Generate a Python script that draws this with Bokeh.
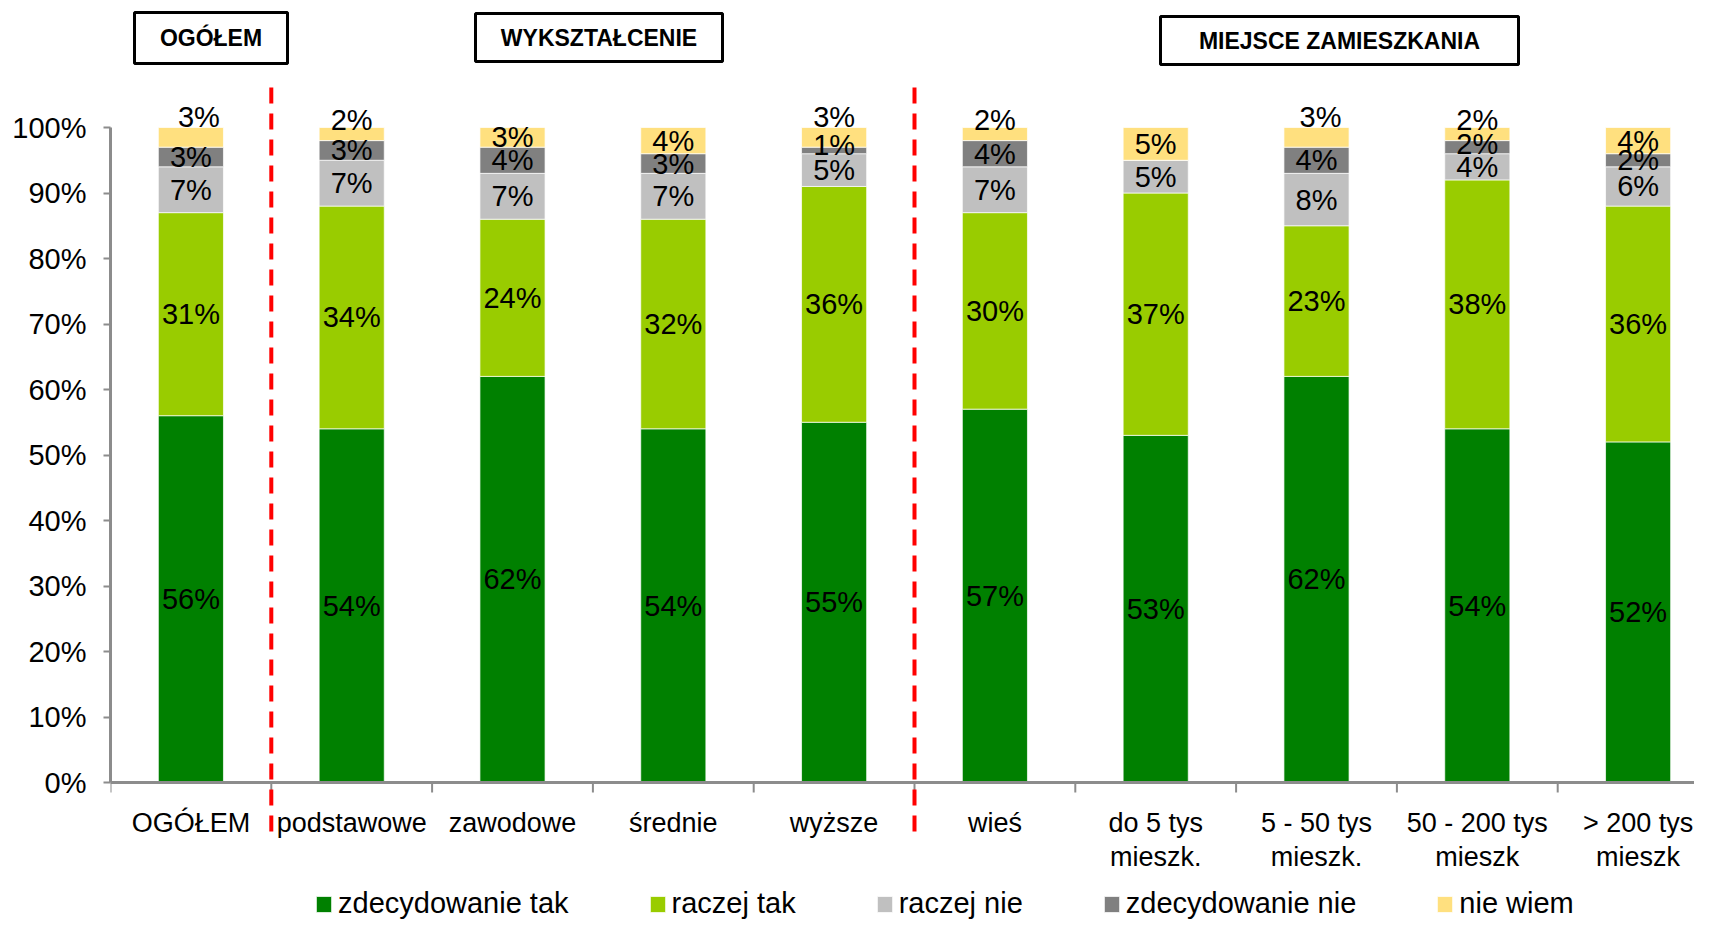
from bokeh.plotting import figure
from bokeh.models import ColumnDataSource, Range1d, FixedTicker, NumeralTickFormatter, Span
from bokeh.core.properties import value
from bokeh.embed import file_html
from bokeh.resources import INLINE

# ---------------- data ----------------
categories = ["OGÓŁEM", "podstawowe", "zawodowe", "średnie", "wyższe", "wieś",
              "do 5 tys\nmieszk.", "5 - 50 tys\nmieszk.", "50 - 200 tys\nmieszk", "> 200 tys\nmieszk"]
series_names = ["zdecydowanie tak", "raczej tak", "raczej nie", "zdecydowanie nie", "nie wiem"]
zdecydowanie_tak = [56, 54, 62, 54, 55, 57, 53, 62, 54, 52]
raczej_tak = [31, 34, 24, 32, 36, 30, 37, 23, 38, 36]
raczej_nie = [7, 7, 7, 7, 5, 7, 5, 8, 4, 6]
zdecydowanie_nie = [3, 3, 4, 3, 1, 4, 0, 4, 2, 2]
nie_wiem = [3, 2, 3, 4, 3, 2, 5, 3, 2, 4]
groups = ["OGÓŁEM", "WYKSZTAŁCENIE", "MIEJSCE ZAMIESZKANIA"]
group_sizes = [1, 4, 5]
y_ticks = [0, 10, 20, 30, 40, 50, 60, 70, 80, 90, 100]

series_values = [zdecydowanie_tak, raczej_tak, raczej_nie, zdecydowanie_nie, nie_wiem]
colors = ["#008000", "#99CC00", "#C0C0C0", "#808080", "#FFE07F"]

# ---------------- layout helpers (pixel -> data) ----------------
W, H = 1694, 923
LEFT = 110
PX_PER_CAT = 160.8
PX_PER_UNIT = 655.0
X0_PX, Y0_PX = 110.0, 782.0


def X(px):
    return (px - X0_PX) / PX_PER_CAT


def Y(py):
    return (Y0_PX - py) / PX_PER_UNIT


n = len(categories)
xc = [i + 0.5 for i in range(n)]

p = figure(width=W, height=H, output_backend="svg", toolbar_location=None,
           x_range=Range1d(0, (W - LEFT) / PX_PER_CAT), y_range=Range1d(Y(H), Y(0)),
           x_axis_location=None, min_border_left=LEFT, min_border_right=0,
           min_border_top=0, min_border_bottom=0)
p.outline_line_color = None
p.xgrid.visible = False
p.ygrid.visible = False

# ---------------- bars ----------------
keys = ["s%d" % k for k in range(len(series_names))]
data = dict(x=xc)
for k, vals in zip(keys, series_values):
    data[k] = [v / 100 for v in vals]
src = ColumnDataSource(data)
p.vbar_stack(keys, x="x", width=0.405, color=colors, source=src,
             legend_label=series_names, line_color="white", line_width=1, line_alpha=0.7)

# ---------------- data labels ----------------
nudge = {(0, 4): (8, -20), (1, 4): (0, -14), (4, 4): (0, -20), (4, 3): (0, -5),
         (5, 4): (0, -14), (7, 4): (4, -20), (8, 4): (0, -14), (8, 3): (0, -3)}
lx, ly, lt, ox, oy = [], [], [], [], []
for i in range(n):
    base = 0
    for s, vals in enumerate(series_values):
        v = vals[i]
        if v > 0:
            lx.append(xc[i])
            ly.append((base + v / 2) / 100)
            lt.append("%d%%" % v)
            dx, dy = nudge.get((i, s), (0, 0))
            ox.append(dx)
            oy.append(dy)
        base += v
lsrc = ColumnDataSource(dict(x=lx, y=ly, t=lt, ox=ox, oy=oy))
p.text(x="x", y="y", text="t", x_offset="ox", y_offset="oy", source=lsrc,
       text_align="center", text_baseline="middle", text_color="black",
       text_font=value("Liberation Sans"), text_font_size="29px")

# ---------------- x axis (drawn) ----------------
p.add_layout(Span(location=0, dimension="width", line_color="#8C8C8C", line_width=3))
bounds = list(range(n))
p.segment(x0=bounds, x1=bounds, y0=[0] * n, y1=[Y(Y0_PX + 10)] * n,
          line_color="#8C8C8C", line_width=2)
p.text(x=xc, y=[Y(807)] * n, text=categories, text_align="center", text_baseline="top",
       text_color="black", text_font=value("Liberation Sans"), text_font_size="27px",
       text_line_height=1.15)

# ---------------- group separators ----------------
cum = []
acc = 0
for g in group_sizes[:-1]:
    acc += g
    cum.append(acc)
p.segment(x0=cum, x1=cum, y0=[Y(87)] * len(cum), y1=[Y(840)] * len(cum),
          line_color="#FF0000", line_width=4, line_dash="16 10")

# ---------------- group header boxes ----------------
box_l = [X(134), X(475), X(1160)]
box_r = [X(287), X(722), X(1518)]
box_t = [Y(12), Y(13), Y(16)]
box_b = [Y(63), Y(61), Y(64)]
p.quad(left=box_l, right=box_r, top=box_t, bottom=box_b, fill_color="white",
       line_color="black", line_width=3)
p.text(x=[(a + b) / 2 for a, b in zip(box_l, box_r)], y=[(a + b) / 2 for a, b in zip(box_t, box_b)],
       text=groups, text_align="center", text_baseline="middle", text_color="black",
       text_font=value("Liberation Sans"), text_font_style="bold", text_font_size="23px")

# ---------------- y axis ----------------
ax = p.yaxis[0]
ax.ticker = FixedTicker(ticks=[t / 100 for t in y_ticks])
ax.bounds = (0, 1)
ax.formatter = NumeralTickFormatter(format="0%")
ax.major_label_text_font = "Liberation Sans"
ax.major_label_text_font_size = "29px"
ax.major_label_text_color = "black"
ax.axis_line_color = "#8C8C8C"
ax.axis_line_width = 3
ax.major_tick_line_color = "#8C8C8C"
ax.major_tick_line_width = 2
ax.major_tick_out = 7
ax.major_tick_in = 0
ax.minor_tick_line_color = None
ax.major_label_standoff = 17

# ---------------- legend ----------------
leg = p.legend[0]
leg.orientation = "horizontal"
leg.location = (204, 3)
leg.spacing = 79
leg.glyph_width = 19
leg.glyph_height = 20
leg.label_standoff = 5
leg.padding = 0
leg.margin = 0
leg.border_line_color = None
leg.background_fill_alpha = 0
leg.label_text_font = "Liberation Sans"
leg.label_text_font_size = "29px"
leg.label_text_color = "black"

open("out.html", "w").write(file_html(p, INLINE))
